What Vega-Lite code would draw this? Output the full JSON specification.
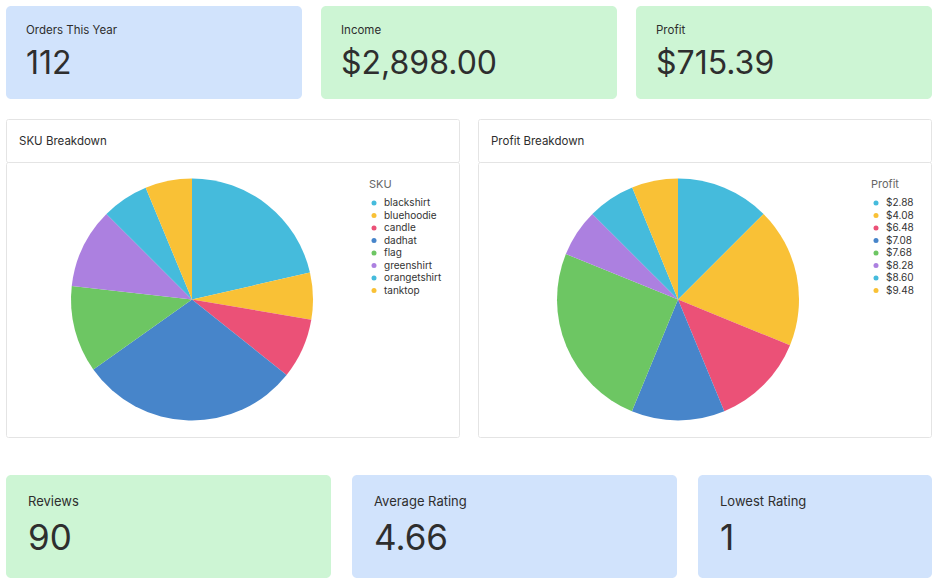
{
  "$schema": "https://vega.github.io/schema/vega-lite/v6.json",
  "padding": {"left": 5, "top": 6, "right": 0, "bottom": 0},
  "background": "white",
  "spacing": 37,
  "resolve": {"scale": {"color": "independent"}, "legend": {"color": "independent"}},
  "config": {
    "font": "Inter",
    "legend": {
      "orient": "top-right",
      "offset": 17,
      "titleFontSize": 11,
      "titleFontWeight": "normal",
      "titleColor": "#666666",
      "labelFontSize": 10,
      "labelColor": "#333333",
      "symbolType": "circle",
      "symbolSize": 25,
      "symbolStrokeWidth": 0,
      "rowPadding": 2.5,
      "titlePadding": 8,
      "labelOffset": 5
    }
  },
  "vconcat": [
    {
      "vconcat": [
        {
          "hconcat": [
            {
              "width": 296, "height": 93,
              "view": {"fill": "#D1E3FC", "stroke": null, "cornerRadius": 5},
              "data": {"values": [{"label": "Orders This Year", "value": "112"}]},
              "layer": [
                {"mark": {"type": "text", "x": 20, "y": 28, "align": "left", "baseline": "alphabetic", "fontSize": 11.5, "color": "#2E2E2E"}, "encoding": {"text": {"field": "label"}}},
                {"mark": {"type": "text", "x": 20, "y": 67.5, "align": "left", "baseline": "alphabetic", "fontSize": 32, "color": "#2E2E2E"}, "encoding": {"text": {"field": "value"}}}
              ]
            },
            {
              "width": 296, "height": 93,
              "view": {"fill": "#CDF5D4", "stroke": null, "cornerRadius": 5},
              "data": {"values": [{"label": "Income", "value": "$2,898.00"}]},
              "layer": [
                {"mark": {"type": "text", "x": 20, "y": 28, "align": "left", "baseline": "alphabetic", "fontSize": 11.5, "color": "#2E2E2E"}, "encoding": {"text": {"field": "label"}}},
                {"mark": {"type": "text", "x": 20, "y": 67.5, "align": "left", "baseline": "alphabetic", "fontSize": 32, "color": "#2E2E2E"}, "encoding": {"text": {"field": "value"}}}
              ]
            },
            {
              "width": 296, "height": 93,
              "view": {"fill": "#CDF5D4", "stroke": null, "cornerRadius": 5},
              "data": {"values": [{"label": "Profit", "value": "$715.39"}]},
              "layer": [
                {"mark": {"type": "text", "x": 20, "y": 28, "align": "left", "baseline": "alphabetic", "fontSize": 11.5, "color": "#2E2E2E"}, "encoding": {"text": {"field": "label"}}},
                {"mark": {"type": "text", "x": 20, "y": 67.5, "align": "left", "baseline": "alphabetic", "fontSize": 32, "color": "#2E2E2E"}, "encoding": {"text": {"field": "value"}}}
              ]
            }
          ],
          "spacing": 19,
          "bounds": "flush"
        },
        {
          "hconcat": [
            {
              "vconcat": [
                {
                  "width": 453, "height": 43,
                  "view": {"fill": "white", "stroke": "#E4E4E4", "cornerRadius": 2},
                  "data": {"values": [{"title": "SKU Breakdown"}]},
                  "mark": {"type": "text", "x": 13, "y": 26, "align": "left", "baseline": "alphabetic", "fontSize": 11.5, "color": "#2E2E2E"},
                  "encoding": {"text": {"field": "title"}}
                },
                {
                  "width": 453, "height": 275,
                  "view": {"fill": "white", "stroke": "#E4E4E4", "cornerRadius": 2},
                  "data": {"values": [
                    {"sku": "blackshirt", "count": 24},
                    {"sku": "bluehoodie", "count": 7},
                    {"sku": "candle", "count": 9},
                    {"sku": "dadhat", "count": 33},
                    {"sku": "flag", "count": 13},
                    {"sku": "greenshirt", "count": 12},
                    {"sku": "orangetshirt", "count": 7},
                    {"sku": "tanktop", "count": 7}
                  ]},
                  "mark": {"type": "arc", "x": 186, "radius": 121},
                  "encoding": {
                    "theta": {"field": "count", "type": "quantitative"},
                    "color": {
                      "field": "sku", "type": "nominal", "title": "SKU",
                      "legend": {"orient": "top-right", "offset": 17},
                      "scale": {
                        "domain": ["blackshirt", "bluehoodie", "candle", "dadhat", "flag", "greenshirt", "orangetshirt", "tanktop"],
                        "range": ["#45BBDC", "#F9C136", "#EB5177", "#4785CA", "#6DC663", "#AC80E0", "#45BBDC", "#F9C136"]
                      }
                    }
                  }
                }
              ],
              "spacing": 0,
              "bounds": "flush",
              "resolve": {"scale": {"color": "independent"}, "legend": {"color": "independent"}}
            },
            {
              "vconcat": [
                {
                  "width": 453, "height": 43,
                  "view": {"fill": "white", "stroke": "#E4E4E4", "cornerRadius": 2},
                  "data": {"values": [{"title": "Profit Breakdown"}]},
                  "mark": {"type": "text", "x": 13, "y": 26, "align": "left", "baseline": "alphabetic", "fontSize": 11.5, "color": "#2E2E2E"},
                  "encoding": {"text": {"field": "title"}}
                },
                {
                  "width": 453, "height": 275,
                  "view": {"fill": "white", "stroke": "#E4E4E4", "cornerRadius": 2},
                  "data": {"values": [
                    {"profit": "$2.88", "amount": 89.4},
                    {"profit": "$4.08", "amount": 133.6},
                    {"profit": "$6.48", "amount": 90.0},
                    {"profit": "$7.08", "amount": 89.2},
                    {"profit": "$7.68", "amount": 178.2},
                    {"profit": "$8.28", "amount": 45.5},
                    {"profit": "$8.60", "amount": 45.3},
                    {"profit": "$9.48", "amount": 44.19}
                  ]},
                  "mark": {"type": "arc", "x": 200, "radius": 121},
                  "encoding": {
                    "theta": {"field": "amount", "type": "quantitative"},
                    "color": {
                      "field": "profit", "type": "nominal", "title": "Profit",
                      "legend": {"orient": "top-right", "offset": 17},
                      "scale": {
                        "domain": ["$2.88", "$4.08", "$6.48", "$7.08", "$7.68", "$8.28", "$8.60", "$9.48"],
                        "range": ["#45BBDC", "#F9C136", "#EB5177", "#4785CA", "#6DC663", "#AC80E0", "#45BBDC", "#F9C136"]
                      }
                    }
                  }
                }
              ],
              "spacing": 0,
              "bounds": "flush",
              "resolve": {"scale": {"color": "independent"}, "legend": {"color": "independent"}}
            }
          ],
          "spacing": 17,
          "resolve": {"scale": {"color": "independent"}, "legend": {"color": "independent"}}
        }
      ],
      "spacing": 19,
      "resolve": {"scale": {"color": "independent"}, "legend": {"color": "independent"}}
    },
    {
      "hconcat": [
        {
          "width": 325, "height": 103,
          "view": {"fill": "#CDF5D4", "stroke": null, "cornerRadius": 5},
          "data": {"values": [{"label": "Reviews", "value": "90"}]},
          "layer": [
            {"mark": {"type": "text", "x": 22, "y": 31, "align": "left", "baseline": "alphabetic", "fontSize": 13, "color": "#2E2E2E"}, "encoding": {"text": {"field": "label"}}},
            {"mark": {"type": "text", "x": 22, "y": 75, "align": "left", "baseline": "alphabetic", "fontSize": 35, "color": "#2E2E2E"}, "encoding": {"text": {"field": "value"}}}
          ]
        },
        {
          "width": 325, "height": 103,
          "view": {"fill": "#D1E3FC", "stroke": null, "cornerRadius": 5},
          "data": {"values": [{"label": "Average Rating", "value": "4.66"}]},
          "layer": [
            {"mark": {"type": "text", "x": 22, "y": 31, "align": "left", "baseline": "alphabetic", "fontSize": 13, "color": "#2E2E2E"}, "encoding": {"text": {"field": "label"}}},
            {"mark": {"type": "text", "x": 22, "y": 75, "align": "left", "baseline": "alphabetic", "fontSize": 35, "color": "#2E2E2E"}, "encoding": {"text": {"field": "value"}}}
          ]
        },
        {
          "width": 234, "height": 103,
          "view": {"fill": "#D1E3FC", "stroke": null, "cornerRadius": 5},
          "data": {"values": [{"label": "Lowest Rating", "value": "1"}]},
          "layer": [
            {"mark": {"type": "text", "x": 22, "y": 31, "align": "left", "baseline": "alphabetic", "fontSize": 13, "color": "#2E2E2E"}, "encoding": {"text": {"field": "label"}}},
            {"mark": {"type": "text", "x": 22, "y": 75, "align": "left", "baseline": "alphabetic", "fontSize": 35, "color": "#2E2E2E"}, "encoding": {"text": {"field": "value"}}}
          ]
        }
      ],
      "spacing": 21,
      "bounds": "flush"
    }
  ]
}
